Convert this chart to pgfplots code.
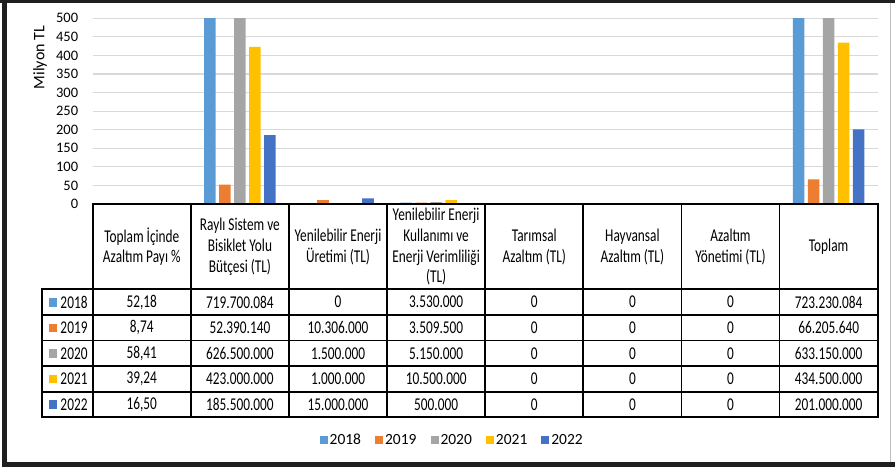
\documentclass[border=0pt]{standalone}
\usepackage{pgfplots}
\pgfplotsset{compat=1.18}
\usepackage{fontspec}
\setmainfont{Carlito}
\newfontfamily\condfont[FakeStretch=0.74]{Carlito}

\definecolor{c18}{HTML}{5B9BD5}
\definecolor{c19}{HTML}{ED7D31}
\definecolor{c20}{HTML}{A5A5A5}
\definecolor{c21}{HTML}{FFC000}
\definecolor{c22}{HTML}{4472C4}

\tikzset{
  tabtext/.style={font=\condfont\fontsize{18}{20.7}\selectfont, align=center, inner sep=0pt},
}
% values of one table row, centred in the eight columns
\newcommand\rowvals[2]{%
  \foreach \v [count=\i] in {#2} {\node[tabtext] at ({92.7+98.125*(\i-0.5)},#1) {\v};}}
\newcommand\rowhead[3]{%
  \fill[#2] (48.5,#1-4.3) rectangle (57,#1+4.3);
  \node[tabtext] at (74,#1) {#3};}

\begin{document}
\begin{tikzpicture}
\path[use as bounding box] (0pt,0pt) rectangle (895pt,-471pt);

\begin{axis}[
    at={(92.7pt,-204pt)}, anchor=south west,
    scale only axis, width=785pt, height=185.7pt,
    xmin=0.5, xmax=8.5, ymin=0, ymax=500,
    ybar=3.3pt, bar width=11.7pt,
    ytick={0,50,...,500}, xtick=\empty,
    ymajorgrids, grid style={draw=black!15, line width=1.2pt},
    axis line style={draw=none}, tick style={draw=none},
    /pgf/number format/assume math mode=true,
    yticklabel style={font=\fontsize{14.5}{16}\selectfont, anchor=east, inner sep=0pt, xshift=-14.4pt},
    legend columns=5,
    legend style={at={(0.458,-1.271)}, anchor=center, draw=none, fill=none,
      font=\fontsize{15.5}{18}\selectfont,
      /tikz/every even column/.append style={column sep=12pt}},
    legend image code/.code={\fill[#1] (0pt,-4pt) rectangle (8pt,4pt);},
]
\addplot[fill=c18, draw=none] coordinates {(1,0.00005218) (2,719.700084) (3,0) (4,3.53) (5,0) (6,0) (7,0) (8,723.230084)};
\addplot[fill=c19, draw=none] coordinates {(1,0.00000874) (2,52.39014) (3,10.306) (4,3.5095) (5,0) (6,0) (7,0) (8,66.20564)};
\addplot[fill=c20, draw=none] coordinates {(1,0.00005841) (2,626.5) (3,1.5) (4,5.15) (5,0) (6,0) (7,0) (8,633.15)};
\addplot[fill=c21, draw=none] coordinates {(1,0.00003924) (2,423) (3,1.0) (4,10.5) (5,0) (6,0) (7,0) (8,434.5)};
\addplot[fill=c22, draw=none] coordinates {(1,0.0000165) (2,185.5) (3,15.0) (4,0.5) (5,0) (6,0) (7,0) (8,201)};
\legend{2018,2019,2020,2021,2022}
\end{axis}

\begin{scope}[x=1pt,y=-1pt]
% outer frame
\fill[black!88] (0,0) rectangle (895,2.5);
\fill[black!88] (2,0) rectangle (7,467);
\fill[black!88] (2,462) rectangle (895,467);
\draw[black!25, line width=0.8pt] (890.7,2.5) -- (890.7,462);

\node[rotate=90, font=\fontsize{16}{19}\selectfont] at (40,57.5) {Milyon TL};

% table grid
\begin{scope}[line width=1.8pt, line cap=rect]
\draw (92.7,204) -- (877.7,204);
\foreach \yy in {289.3,315,340.5,366,391.7,417.3} {\draw (41.7,\yy) -- (877.7,\yy);}
\draw (41.7,289.3) -- (41.7,417.3);
\foreach \j in {0,...,8} {\draw ({92.7+98.125*\j},204) -- ({92.7+98.125*\j},417.3);}
\end{scope}

% header
\node[tabtext] at (141.8,246.7) {Toplam İçinde\\Azaltım Payı \%};
\node[tabtext] at (239.9,246.7) {Raylı Sistem ve\\Bisiklet Yolu\\Bütçesi (TL)};
\node[tabtext] at (338.0,246.7) {Yenilebilir Enerji\\Üretimi (TL)};
\node[tabtext] at (436.1,246.7) {Yenilebilir Enerji\\Kullanımı ve\\Enerji Verimliliği\\(TL)};
\node[tabtext] at (534.3,246.7) {Tarımsal\\Azaltım (TL)};
\node[tabtext] at (632.4,246.7) {Hayvansal\\Azaltım (TL)};
\node[tabtext] at (730.5,246.7) {Azaltım\\Yönetimi (TL)};
\node[tabtext] at (828.6,246.7) {Toplam};

% rows
\rowhead{302.2}{c18}{2018}
\rowvals{302.2}{{52,18},719.700.084,0,3.530.000,0,0,0,723.230.084}
\rowhead{327.8}{c19}{2019}
\rowvals{327.8}{{8,74},52.390.140,10.306.000,3.509.500,0,0,0,66.205.640}
\rowhead{353.3}{c20}{2020}
\rowvals{353.3}{{58,41},626.500.000,1.500.000,5.150.000,0,0,0,633.150.000}
\rowhead{378.9}{c21}{2021}
\rowvals{378.9}{{39,24},423.000.000,1.000.000,10.500.000,0,0,0,434.500.000}
\rowhead{404.5}{c22}{2022}
\rowvals{404.5}{{16,50},185.500.000,15.000.000,500.000,0,0,0,201.000.000}
\end{scope}
\end{tikzpicture}
\end{document}
